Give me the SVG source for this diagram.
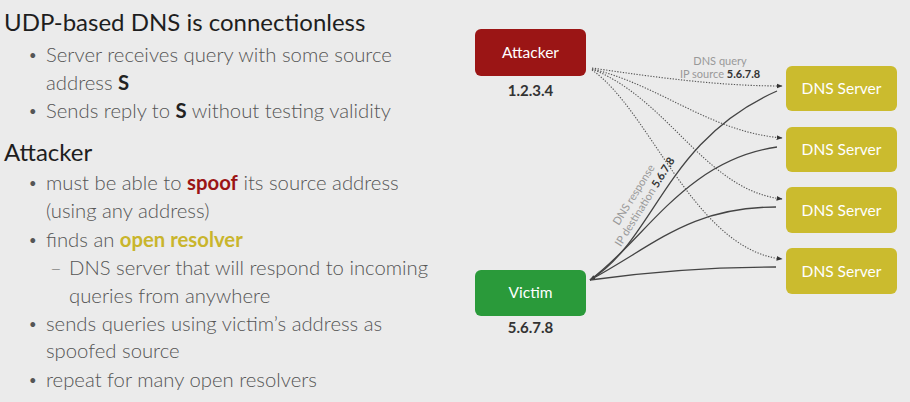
<svg xmlns="http://www.w3.org/2000/svg" width="910" height="402" viewBox="0 0 910 402">
<defs>
<style>
.t{font-family:Lato,"Open Sans",sans-serif}
.h{font-size:24px;fill:#1e1e1e}
.b{font-size:20.3px;fill:#555;font-weight:300}
.d{font-size:13px;fill:#555}
.bold{font-weight:bold}
.node{font-family:Lato,"Open Sans",sans-serif;font-size:15.5px;fill:#fff;text-anchor:middle}
.addr{font-family:Lato,"Open Sans",sans-serif;font-size:15px;font-weight:bold;fill:#333;text-anchor:middle}
.q{fill:none;stroke:#555;stroke-width:1.1;stroke-dasharray:1.3 1.5}
.r{fill:none;stroke:#444;stroke-width:1.3}
.lbl{font-family:Lato,"Open Sans",sans-serif;font-size:11px;fill:#999}
.lblb{font-weight:bold;fill:#333}
</style>
<marker id="ah" viewBox="0 0 10 10" refX="9" refY="5" markerWidth="6" markerHeight="6" orient="auto-start-reverse" markerUnits="userSpaceOnUse">
<path d="M0,1 L10,5 L0,9 z" fill="#333"/>
</marker>
</defs>
<rect width="910" height="402" fill="#ebebeb"/>

<g id="text-left" class="t">
<text x="4" y="31" class="h">UDP-based DNS is connectionless</text>
<text x="29" y="60" class="d">•</text>
<text x="46" y="62" class="b">Server receives query with some source</text>
<text x="46" y="90" class="b">address <tspan class="bold" fill="#222">S</tspan></text>
<text x="29" y="116" class="d">•</text>
<text x="46" y="118" class="b">Sends reply to <tspan class="bold" fill="#222">S</tspan> without testing validity</text>
<text x="4" y="161" class="h">Attacker</text>
<text x="29" y="188" class="d">•</text>
<text x="46" y="190" class="b">must be able to <tspan class="bold" fill="#9b1515">spoof</tspan> its source address</text>
<text x="46" y="218" class="b">(using any address)</text>
<text x="29" y="245" class="d">•</text>
<text x="46" y="247" class="b">finds an <tspan class="bold" fill="#c9b52c">open resolver</tspan></text>
<text x="50" y="275" class="b">–</text>
<text x="69" y="275" class="b">DNS server that will respond to incoming</text>
<text x="69" y="303" class="b">queries from anywhere</text>
<text x="29" y="329" class="d">•</text>
<text x="46" y="331" class="b">sends queries using victim’s address as</text>
<text x="46" y="358" class="b">spoofed source</text>
<text x="29" y="385" class="d">•</text>
<text x="46" y="387" class="b">repeat for many open resolvers</text>
</g>

<g id="connectors">
<path class="q" d="M592,68 C660,78 720,86 782,86" marker-end="url(#ah)"/>
<path class="q" d="M592,69 C660,85 710,132 782,138" marker-end="url(#ah)"/>
<path class="q" d="M592,69 C670,100 705,190 782,199" marker-end="url(#ah)"/>
<path class="q" d="M592,70 C650,110 695,250 782,259" marker-end="url(#ah)"/>
<path class="r" d="M590,280 C655,240 665,140 777,91" marker-start="url(#ah)"/>
<path class="r" d="M590,280 C645,240 685,160 777,147"/>
<path class="r" d="M590,280 C655,245 690,207 776,207"/>
<path class="r" d="M590,280 C660,270 715,267 776,267"/>
<text class="lbl" x="720" y="65" text-anchor="middle">DNS query</text>
<text class="lbl" x="720" y="78" text-anchor="middle">IP source <tspan class="lblb">5.6.7.8</tspan></text>
<g transform="translate(642,200) rotate(-58)">
<text class="lbl" x="0" y="-6" text-anchor="middle">DNS response</text>
<text class="lbl" x="0" y="7" text-anchor="middle">IP destination <tspan class="lblb">5.6.7.8</tspan></text>
</g>
</g>

<g id="attacker">
<rect x="475" y="29" width="111" height="47" rx="6" fill="#9b1515"/>
<text x="530.5" y="58" class="node">Attacker</text>
<text x="530.5" y="96" class="addr">1.2.3.4</text>
</g>
<g id="victim">
<rect x="475" y="270" width="111" height="46" rx="6" fill="#2a9a3a"/>
<text x="530.5" y="298" class="node">Victim</text>
<text x="530.5" y="333" class="addr">5.6.7.8</text>
</g>
<g id="dns1">
<rect x="786" y="66" width="111" height="45" rx="6" fill="#cbbb2e"/>
<text x="841.5" y="94" class="node">DNS Server</text>
</g>
<g id="dns2">
<rect x="786" y="127" width="111" height="45" rx="6" fill="#cbbb2e"/>
<text x="841.5" y="155" class="node">DNS Server</text>
</g>
<g id="dns3">
<rect x="786" y="187" width="111" height="46" rx="6" fill="#cbbb2e"/>
<text x="841.5" y="216" class="node">DNS Server</text>
</g>
<g id="dns4">
<rect x="786" y="248" width="111" height="46" rx="6" fill="#cbbb2e"/>
<text x="841.5" y="277" class="node">DNS Server</text>
</g>
</svg>
